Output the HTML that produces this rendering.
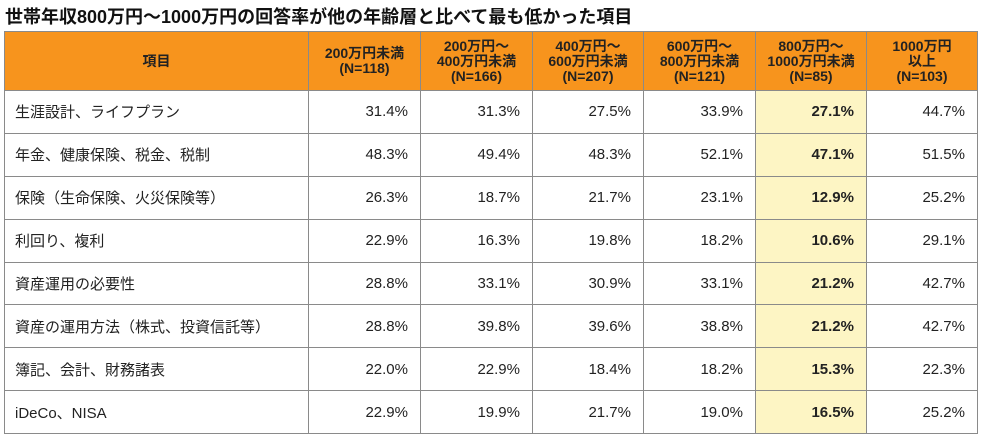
<!DOCTYPE html>
<html><head><meta charset="utf-8">
<style>
body{margin:0;width:981px;height:438px;background:#fff;font-family:"Liberation Sans","Noto Sans CJK JP",sans-serif;overflow:hidden;position:relative}
#title{position:absolute;left:5px;top:3px;font-size:18px;font-weight:bold;color:#111;white-space:nowrap}
table{position:absolute;left:4px;top:31px;border-collapse:collapse;table-layout:fixed}
td,th{border:1.5px solid #8a8a8a;padding:0;box-sizing:border-box}
th{background:#F7941D;height:59px;font-size:14px;line-height:15px;font-weight:bold;color:#222;text-align:center}
td{height:42.9px;font-size:15px;color:#222;text-align:right;padding-right:12px}
td.label{text-align:left;padding-left:10px;padding-right:0}
td.hl{background:#FDF5C4;font-weight:bold}
</style></head><body>
<div id="title">世帯年収800万円〜1000万円の回答率が他の年齢層と比べて最も低かった項目</div>
<table>
<colgroup><col style="width:304px"><col style="width:112px"><col style="width:112px"><col style="width:111px"><col style="width:112px"><col style="width:111px"><col style="width:111px"></colgroup>
<thead><tr>
<th>項目</th>
<th>200万円未満<br>(N=118)</th>
<th>200万円〜<br>400万円未満<br>(N=166)</th>
<th>400万円〜<br>600万円未満<br>(N=207)</th>
<th>600万円〜<br>800万円未満<br>(N=121)</th>
<th>800万円〜<br>1000万円未満<br>(N=85)</th>
<th>1000万円<br>以上<br>(N=103)</th>
</tr></thead>
<tbody id="tb"></tbody>
</table>
<script>
const items=["生涯設計、ライフプラン","年金、健康保険、税金、税制","保険（生命保険、火災保険等）","利回り、複利","資産運用の必要性","資産の運用方法（株式、投資信託等）","簿記、会計、財務諸表","iDeCo、NISA"];
const colUnder200=[31.4,48.3,26.3,22.9,28.8,28.8,22.0,22.9];
const col200to400=[31.3,49.4,18.7,16.3,33.1,39.8,22.9,19.9];
const col400to600=[27.5,48.3,21.7,19.8,30.9,39.6,18.4,21.7];
const col600to800=[33.9,52.1,23.1,18.2,33.1,38.8,18.2,19.0];
const col800to1000=[27.1,47.1,12.9,10.6,21.2,21.2,15.3,16.5];
const colOver1000=[44.7,51.5,25.2,29.1,42.7,42.7,22.3,25.2];
const cols=[colUnder200,col200to400,col400to600,col600to800,col800to1000,colOver1000];
const tb=document.getElementById('tb');
items.forEach((it,i)=>{
  const tr=document.createElement('tr');
  
  
  const l=document.createElement('td');l.className='label';l.textContent=it;
  
  
  tr.appendChild(l);
  cols.forEach((c,j)=>{
    const td=document.createElement('td');
    td.textContent=c[i].toFixed(1)+'%';
    if(j===4)td.className='hl';
    
    
    tr.appendChild(td);
  });
  tb.appendChild(tr);
});
</script>
</body></html>
